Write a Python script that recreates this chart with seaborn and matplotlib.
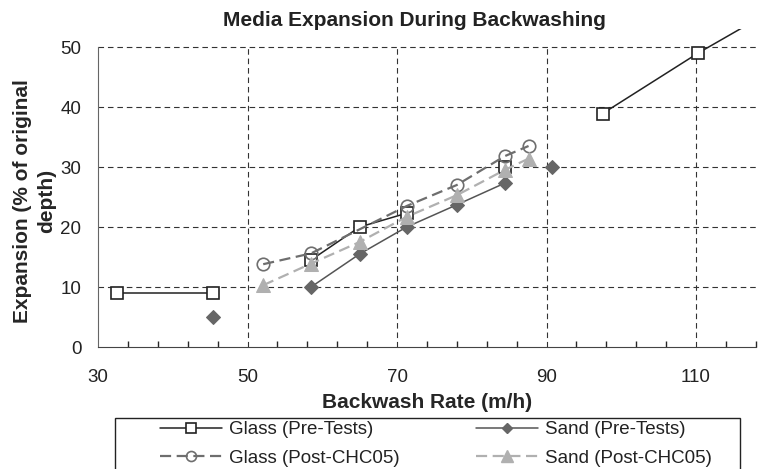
import numpy as np
import pandas as pd
import matplotlib
matplotlib.use('Agg')
import matplotlib.pyplot as plt
from matplotlib.lines import Line2D
from matplotlib.patches import Rectangle
import seaborn as sns

# values (run = connected test group)
glass_pre_x = [32.5, 45.4, 58.5, 65.0, 71.3, 84.4, 97.5, 110.3, 118.0]
glass_pre_y = [9.0, 9.0, 14.5, 20.0, 22.3, 30.0, 38.9, 49.0, 54.5]
glass_pre_run = [1, 1, 2, 2, 2, 3, 4, 4, 4]

sand_pre_x = [45.4, 58.5, 65.0, 71.3, 78.0, 84.4, 90.8]
sand_pre_y = [5.0, 10.0, 15.5, 20.0, 23.7, 27.3, 30.0]
sand_pre_run = [1, 2, 2, 2, 2, 2, 3]

glass_post_x = [52.1, 58.5, 71.3, 78.0, 84.4, 87.6]
glass_post_y = [13.8, 15.6, 23.5, 27.0, 31.8, 33.5]
glass_post_run = [1, 1, 1, 1, 1, 1]

sand_post_x = [52.1, 58.5, 65.0, 71.3, 78.0, 84.4, 87.6]
sand_post_y = [10.3, 13.9, 17.5, 21.7, 25.3, 29.5, 31.4]
sand_post_run = [1, 1, 1, 1, 1, 1, 1]

x_ticks = [30, 50, 70, 90, 110]
y_ticks = [0, 10, 20, 30, 40, 50]

sns.set_style('white')
plt.rcParams['font.family'] = ['Liberation Sans', 'DejaVu Sans']
plt.rcParams['text.color'] = '#222222'

fig = plt.figure(figsize=(7.63, 4.69), dpi=100)
ax = fig.add_axes([98/763, 122/469, 657.8/763, 318/469])

# grid (vertical lines stop at 50, horizontal ones run full width)
grid_kw = dict(color='#333333', lw=0.8, linestyle=(0, (5, 3.5)), zorder=1)
ax.hlines([10, 20, 30, 40, 50], 30, 118, **grid_kw)
ax.vlines([50, 70, 90, 110], 0, 50, **grid_kw)

series = {
    'Glass (Pre-Tests)': (glass_pre_x, glass_pre_y, glass_pre_run,
                          dict(color='#222222', lw=1.1, linestyle='-', marker='s', markersize=8.5,
                               markerfacecolor='white', markeredgecolor='#222222', markeredgewidth=1.2)),
    'Glass (Post-CHC05)': (glass_post_x, glass_post_y, glass_post_run,
                           dict(color='#6e6e6e', lw=1.6, linestyle=(0, (5, 2.5)), marker='o', markersize=9,
                                markerfacecolor='none', markeredgecolor='#6e6e6e', markeredgewidth=1.2)),
    'Sand (Pre-Tests)': (sand_pre_x, sand_pre_y, sand_pre_run,
                         dict(color='#555555', lw=1.1, linestyle='-', marker='D', markersize=7,
                              markerfacecolor='#666666', markeredgecolor='#666666')),
    'Sand (Post-CHC05)': (sand_post_x, sand_post_y, sand_post_run,
                          dict(color='#b0b0b0', lw=1.6, linestyle=(0, (5, 2.5)), marker='^', markersize=10,
                               markerfacecolor='#b0b0b0', markeredgecolor='#b0b0b0')),
}

handles = []
for i, (name, (xs, ys, runs, style)) in enumerate(series.items()):
    df = pd.DataFrame({'x': xs, 'y': ys, 'run': runs})
    sns.lineplot(data=df, x='x', y='y', units='run', estimator=None, sort=False,
                 ax=ax, legend=False, zorder=3 + i, **style)
    leg_style = dict(style)
    leg_style['markersize'] = style['markersize'] * 0.8
    handles.append(Line2D([], [], label=name, **leg_style))

ax.set_xlim(30, 118)
ax.set_ylim(0, 53)
ax.set_xticks(x_ticks)
ax.set_xticks(np.arange(30, 119, 4), minor=True)
ax.set_yticks(y_ticks)
ax.tick_params(axis='both', labelsize=13.5, colors='#222222')
ax.tick_params(axis='x', which='major', direction='inout', length=8, width=1, pad=12)
ax.tick_params(axis='x', which='minor', direction='in', length=4, width=1, bottom=True)
ax.tick_params(axis='y', which='major', direction='out', length=5, width=1, pad=7)

for side in ['top', 'right']:
    ax.spines[side].set_visible(False)
ax.spines['left'].set_bounds(0, 50)
ax.spines['left'].set_color('#666666')
ax.spines['bottom'].set_color('#444444')

ax.set_xlabel('Backwash Rate (m/h)', fontsize=15, fontweight='bold', labelpad=5)
ax.set_ylabel('Expansion (% of original\ndepth)', fontsize=15, fontweight='bold',
              linespacing=1.3)
ax.yaxis.set_label_coords(-0.064, 0.459)

fig.text(414/763, 1 - 20/469, 'Media Expansion During Backwashing', fontsize=15,
         fontweight='bold', ha='center', va='center')

# legend box runs off the bottom of the figure
fig.patches.append(Rectangle((115/763, -0.05), 625/763, (469 - 418)/469 + 0.05,
                             transform=fig.transFigure, fill=False, edgecolor='#222222', lw=1))
fig.legend(handles=handles, loc='upper left', bbox_to_anchor=(160/763, 1 - 421/469),
           ncol=2, frameon=False, fontsize=13.5, handlelength=3.3, handletextpad=0.4,
           columnspacing=4.05, borderpad=0, borderaxespad=0, labelspacing=0.6)

fig.savefig('out.png', dpi=100)
